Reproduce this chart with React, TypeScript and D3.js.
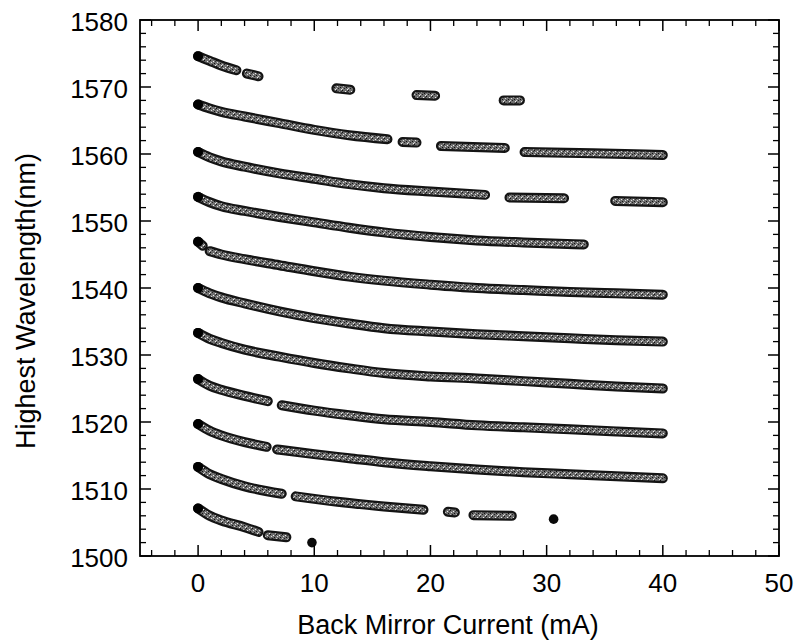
import React from "react";
import * as d3 from "d3";

type Pt = [number, number];
type Seg = Pt[];

// Axis ticks / labels
const xTickValues = [0, 10, 20, 30, 40, 50];
const yTickValues = [1500, 1510, 1520, 1530, 1540, 1550, 1560, 1570, 1580];
const xMinorValues = [-4, -2, 2, 4, 6, 8, 12, 14, 16, 18, 22, 24, 26, 28, 32, 34, 36, 38, 42, 44, 46, 48];
const yMinorValues = [1502, 1504, 1506, 1508, 1512, 1514, 1516, 1518, 1522, 1524, 1526, 1528, 1532, 1534, 1536, 1538, 1542, 1544, 1546, 1548, 1552, 1554, 1556, 1558, 1562, 1564, 1566, 1568, 1572, 1574, 1576, 1578];

const xLabel = "Back Mirror Current (mA)";
const yLabel = "Highest Wavelength(nm)";

// Mode bands (segments of [current mA, wavelength nm])
const mode1574: Seg[] = [
  [[0, 1574.6], [1, 1573.9], [2, 1573.2], [3.3, 1572.5]],
  [[4.2, 1572.0], [5.2, 1571.6]],
  [[11.9, 1569.8], [13.1, 1569.6]],
  [[18.8, 1568.8], [20.4, 1568.7]],
  [[26.3, 1568.0], [27.7, 1568.0]],
];
const mode1567: Seg[] = [
  [[0, 1567.4], [1, 1566.8], [2, 1566.3], [4, 1565.6], [7, 1564.6], [10, 1563.6], [13, 1562.8], [16.3, 1562.2]],
  [[17.6, 1561.8], [18.8, 1561.7]],
  [[20.9, 1561.2], [26.4, 1560.9]],
  [[28.1, 1560.3], [34, 1560.1], [40, 1559.85]],
];
const mode1560: Seg[] = [
  [[0, 1560.3], [1, 1559.5], [2, 1558.9], [4, 1558.1], [7, 1557.1], [10, 1556.3], [13, 1555.5], [16, 1554.9], [20, 1554.4], [24.7, 1553.9]],
  [[26.8, 1553.5], [31.5, 1553.4]],
  [[35.9, 1553.0], [40, 1552.8]],
];
const mode1553: Seg[] = [
  [[0, 1553.6], [1, 1552.8], [2, 1552.2], [4, 1551.5], [7, 1550.6], [10, 1549.8], [13, 1549.0], [16, 1548.3], [20, 1547.6], [24, 1547.1], [28, 1546.8], [33.2, 1546.5]],
];
const mode1547: Seg[] = [
  [[0, 1546.9], [0.4, 1546.3]],
  [[1, 1545.5], [2, 1545.0], [4, 1544.3], [7, 1543.4], [10, 1542.5], [13, 1541.7], [16, 1541.1], [20, 1540.5], [24, 1540.0], [28, 1539.7], [32, 1539.4], [36, 1539.2], [40, 1539.0]],
];
const mode1540: Seg[] = [
  [[0, 1540.0], [1, 1539.2], [2, 1538.6], [4, 1537.7], [7, 1536.5], [10, 1535.5], [13, 1534.7], [16, 1534.0], [20, 1533.5], [24, 1533.1], [28, 1532.8], [32, 1532.5], [36, 1532.2], [40, 1532.0]],
];
const mode1533: Seg[] = [
  [[0, 1533.3], [1, 1532.4], [2, 1531.8], [4, 1530.8], [7, 1529.75], [10, 1528.8], [13, 1528.0], [16, 1527.3], [20, 1526.8], [24, 1526.5], [28, 1526.1], [32, 1525.7], [36, 1525.3], [40, 1525.0]],
];
const mode1526: Seg[] = [
  [[0, 1526.4], [1, 1525.4], [2, 1524.8], [4, 1523.9], [6.0, 1523.1]],
  [[7.2, 1522.5], [10, 1521.7], [13, 1521.0], [16, 1520.4], [20, 1520.0], [24, 1519.5], [28, 1519.2], [32, 1518.9], [36, 1518.6], [40, 1518.3]],
];
const mode1520: Seg[] = [
  [[0, 1519.7], [1, 1518.7], [2, 1518.0], [4, 1517.0], [5.9, 1516.3]],
  [[6.8, 1515.9], [10, 1515.2], [13, 1514.6], [16, 1514.0], [20, 1513.4], [24, 1512.9], [28, 1512.5], [32, 1512.2], [36, 1511.9], [40, 1511.6]],
];
const mode1513: Seg[] = [
  [[0, 1513.3], [1, 1512.2], [2, 1511.5], [4, 1510.4], [7.2, 1509.3]],
  [[8.4, 1508.9], [12, 1508.1], [16, 1507.4], [19.4, 1506.9]],
  [[21.5, 1506.6], [22.1, 1506.5]],
  [[23.7, 1506.1], [27.0, 1506.0]],
  [[30.6, 1505.5]],
];
const mode1507: Seg[] = [
  [[0, 1507.1], [1, 1506.0], [2, 1505.3], [4, 1504.3], [5.2, 1503.6]],
  [[6.0, 1503.1], [7.6, 1502.8]],
  [[9.8, 1502.0]],
];

const modes: Seg[][] = [mode1574, mode1567, mode1560, mode1553, mode1547, mode1540, mode1533, mode1526, mode1520, mode1513, mode1507];

const LEFT = 140, RIGHT = 779, TOP = 20, BOTTOM = 556;
const FONT = "'Liberation Sans', Arial, Helvetica, sans-serif";

export default function App() {
  const x = d3.scaleLinear().domain([-5, 50]).range([LEFT, RIGHT]);
  const y = d3.scaleLinear().domain([1500, 1580]).range([BOTTOM, TOP]);
  const line = d3
    .line<Pt>()
    .x((d) => x(d[0]))
    .y((d) => y(d[1]))
    .curve(d3.curveMonotoneX);

  const majorLen = 11;
  const minorLen = 6;

  return (
    <svg
      width={799}
      height={642}
      style={{ position: "fixed", left: 0, top: 0, background: "#fff" }}
      fontFamily={FONT}
    >
      <defs>
        <pattern id="speck" width="6" height="6" patternUnits="userSpaceOnUse">
          <rect width="6" height="6" fill="#6f6f6f" />
          <rect x="0" y="0" width="1" height="1" fill="#111" />
          <rect x="3" y="1" width="1" height="1" fill="#eee" />
          <rect x="1" y="2" width="1" height="1" fill="#ddd" />
          <rect x="4" y="3" width="1" height="1" fill="#111" />
          <rect x="2" y="4" width="1" height="1" fill="#222" />
          <rect x="5" y="5" width="1" height="1" fill="#eee" />
          <rect x="0" y="4" width="1" height="1" fill="#ccc" />
          <rect x="5" y="1" width="1" height="1" fill="#333" />
        </pattern>
      </defs>
      <rect x={0} y={0} width={799} height={642} fill="#fff" />

      {/* data bands */}
      {modes.map((segs, mi) =>
        segs.map((seg, si) =>
          seg.length === 1 ? (
            <circle key={`d${mi}-${si}`} cx={x(seg[0][0])} cy={y(seg[0][1])} r={4.8} fill="#0a0a0a" />
          ) : (
            <g key={`s${mi}-${si}`}>
              <path d={line(seg) || ""} fill="none" stroke="#141414" strokeWidth={10} strokeLinecap="round" strokeLinejoin="round" />
              <path d={line(seg) || ""} fill="none" stroke="url(#speck)" strokeWidth={5.6} strokeLinecap="round" strokeLinejoin="round" />
              {seg[0][0] === 0 && <circle cx={x(seg[0][0])} cy={y(seg[0][1])} r={5} fill="#000" />}
            </g>
          )
        )
      )}

      {/* frame */}
      <rect x={LEFT} y={TOP} width={RIGHT - LEFT} height={BOTTOM - TOP} fill="none" stroke="#000" strokeWidth={1.8} />

      {/* x ticks */}
      {xTickValues.map((v) => (
        <g key={`xt${v}`}>
          <line x1={x(v)} x2={x(v)} y1={BOTTOM} y2={BOTTOM - majorLen} stroke="#000" strokeWidth={1.5} />
          <line x1={x(v)} x2={x(v)} y1={TOP} y2={TOP + majorLen} stroke="#000" strokeWidth={1.5} />
          <text x={x(v)} y={592} textAnchor="middle" fontSize={26} fill="#000">
            {v}
          </text>
        </g>
      ))}
      {xMinorValues.map((v) => (
        <g key={`xm${v}`}>
          <line x1={x(v)} x2={x(v)} y1={BOTTOM} y2={BOTTOM - minorLen} stroke="#000" strokeWidth={1.3} />
          <line x1={x(v)} x2={x(v)} y1={TOP} y2={TOP + minorLen} stroke="#000" strokeWidth={1.3} />
        </g>
      ))}

      {/* y ticks */}
      {yTickValues.map((v) => (
        <g key={`yt${v}`}>
          <line x1={LEFT} x2={LEFT + majorLen} y1={y(v)} y2={y(v)} stroke="#000" strokeWidth={1.5} />
          <line x1={RIGHT} x2={RIGHT - majorLen} y1={y(v)} y2={y(v)} stroke="#000" strokeWidth={1.5} />
          <text x={128} y={y(v) + 10.5} textAnchor="end" fontSize={26} fill="#000">
            {v}
          </text>
        </g>
      ))}
      {yMinorValues.map((v) => (
        <g key={`ym${v}`}>
          <line x1={LEFT} x2={LEFT + minorLen} y1={y(v)} y2={y(v)} stroke="#000" strokeWidth={1.3} />
          <line x1={RIGHT} x2={RIGHT - minorLen} y1={y(v)} y2={y(v)} stroke="#000" strokeWidth={1.3} />
        </g>
      ))}

      {/* axis titles */}
      <text x={448} y={634} textAnchor="middle" fontSize={27} fill="#000">
        {xLabel}
      </text>
      <text
        transform={`translate(35, 301) rotate(-90)`}
        textAnchor="middle"
        fontSize={27}
        fill="#000"
      >
        {yLabel}
      </text>
    </svg>
  );
}
